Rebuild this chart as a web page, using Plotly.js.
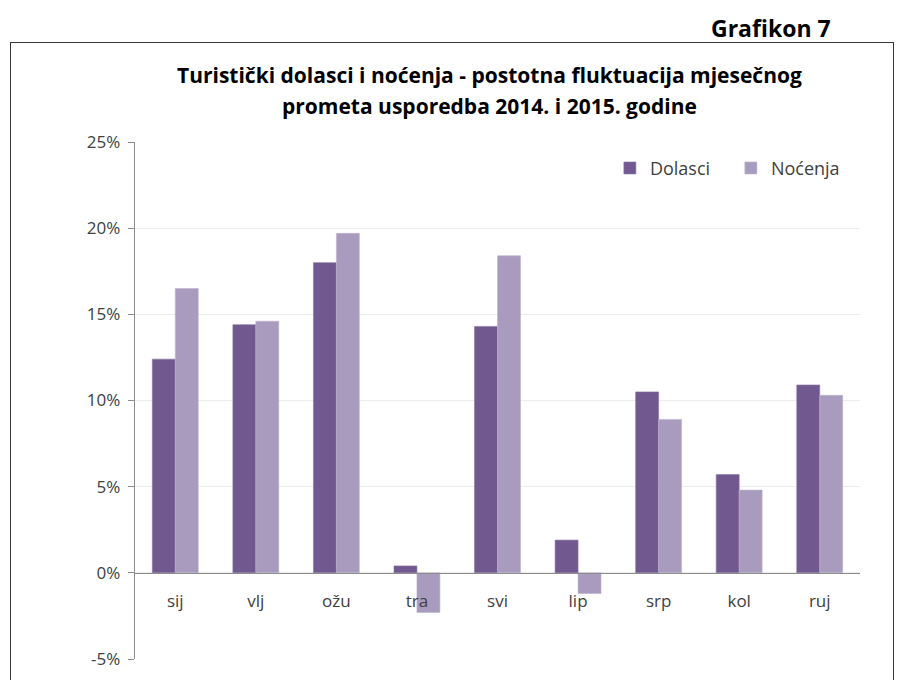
<!DOCTYPE html>
<html>
<head>
<meta charset="utf-8">
<script src="https://cdn.plot.ly/plotly-3.0.1.min.js"></script>
<style>
html,body{margin:0;padding:0;background:#fff;}
#wrap{position:relative;width:906px;height:680px;overflow:hidden;}
#chart{width:906px;height:680px;}
#frame{position:absolute;left:10px;top:42px;width:884px;height:700px;border:1.5px solid #3a3a3a;pointer-events:none;box-sizing:border-box;}
</style>
</head>
<body>
<div id="wrap">
<div id="chart"></div>
<div id="frame"></div>
</div>
<script>
const months = ['sij','vlj','ožu','tra','svi','lip','srp','kol','ruj'];
const dolasci = [12.4, 14.4, 18.0, 0.4, 14.3, 1.9, 10.5, 5.7, 10.9];
const nocenja = [16.5, 14.6, 19.7, -2.3, 18.4, -1.2, 8.9, 4.8, 10.3];
const seriesNames = ['Dolasci', 'Noćenja'];
const yTickVals = [-5, 0, 5, 10, 15, 20, 25];
const yTickText = ['-5%', '0%', '5%', '10%', '15%', '20%', '25%'];

const FONT = '"Open Sans", Lato, sans-serif';

const traces = [
  {type:'bar', name: seriesNames[0], x: months, y: dolasci,
   marker:{color:'#71588F', line:{color:'#8a76a3', width:0.6}}},
  {type:'bar', name: seriesNames[1], x: months, y: nocenja,
   marker:{color:'#A99BBD', line:{color:'#bdb2cd', width:0.6}}}
];

const layout = {
  width: 906, height: 680,
  margin: {l:135, r:46, t:142, b:21, autoexpand:false},
  paper_bgcolor:'#fff', plot_bgcolor:'#fff',
  barmode:'group', bargap:0.43, bargroupgap:0,
  font:{family:FONT, size:16, color:'#404040'},
  showlegend:true,
  legend:{orientation:'h', x:0.655, xanchor:'left', y:0.985, yanchor:'top',
          font:{family:FONT, size:18, color:'#404040'}, bgcolor:'rgba(0,0,0,0)',
          itemwidth:30, entrywidth:76, traceorder:'normal'},
  xaxis:{type:'category', anchor:'free', position:1/6, showline:true, linecolor:'#8c8c8c', linewidth:1.3,
         ticks:'', showgrid:false, tickfont:{family:FONT, size:17, color:'#404040'}, ticklabelstandoff:12, fixedrange:true},
  yaxis:{range:[-5,25], tickvals:yTickVals, ticktext:yTickText, showgrid:true, gridcolor:'#ececec', gridwidth:1,
         zeroline:false, showline:true, linecolor:'#8c8c8c', linewidth:1.3, ticks:'outside', ticklen:6, tickcolor:'#8c8c8c',
         tickfont:{family:FONT, size:17, color:'#404040'}, ticklabelstandoff:4},
  annotations:[
    {text:'<b>Turistički dolasci i noćenja - postotna fluktuacija mjesečnog</b>',
     xref:'paper', yref:'paper', x:(489-135)/725, y:(659-75)/517, xanchor:'center', yanchor:'middle', showarrow:false,
     font:{family:FONT, size:21, color:'#000'}},
    {text:'<b>prometa usporedba 2014. i 2015. godine</b>',
     xref:'paper', yref:'paper', x:(489-135)/725, y:(659-106)/517, xanchor:'center', yanchor:'middle', showarrow:false,
     font:{family:FONT, size:21, color:'#000'}},
    {text:'<b>Grafikon 7</b>', xref:'paper', yref:'paper', x:(833-135)/725, y:(659-10)/517, xanchor:'right', yanchor:'top',
     showarrow:false, font:{family:FONT, size:23, color:'#000'}}
  ]
};

Plotly.newPlot('chart', traces, layout, {displayModeBar:false, staticPlot:true});
</script>
</body>
</html>
